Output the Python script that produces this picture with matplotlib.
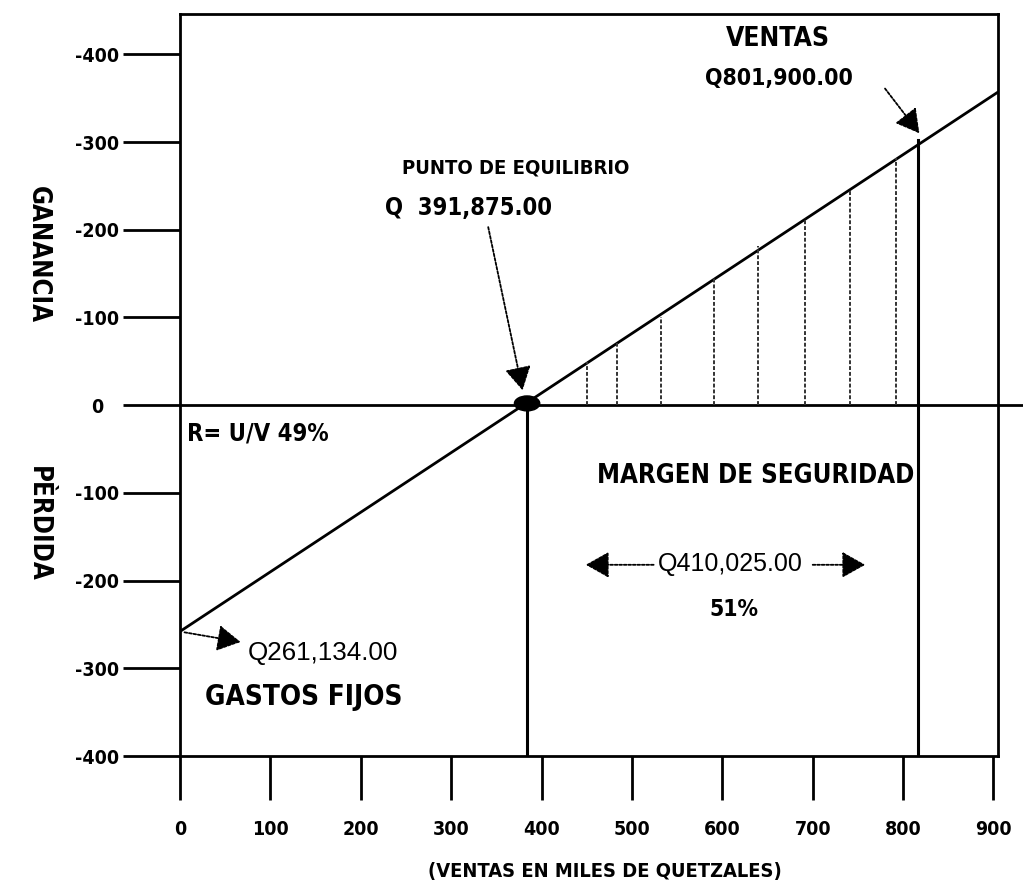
import numpy as np
import matplotlib
matplotlib.use('Agg')
import matplotlib.pyplot as plt
from matplotlib import font_manager
from matplotlib.patches import Ellipse
from matplotlib.transforms import ScaledTranslation

# valores (miles de quetzales)
line_x = [0, 905]
line_y = [-258, 357]
equilibrio_x = 384
ventas_x = 816
ventas_y = 302
hatch_x = [450, 484, 532, 591, 640, 691, 741, 792]
hatch_y = [49, 71, 100, 145, 182, 213, 245, 282]
xticks = [0, 100, 200, 300, 400, 500, 600, 700, 800, 900]
yticks = [400, 300, 200, 100, 0, -100, -200, -300, -400]
ytick_labels = ['-400', '-300', '-200', '-100', '0', '-100', '-200', '-300', '-400']

names = {f.name for f in font_manager.fontManager.ttflist}
if 'Liberation Sans Narrow' in names:
    narrow = dict(family='Liberation Sans Narrow', weight='bold')
else:
    narrow = dict(family='DejaVu Sans', weight='bold', stretch='condensed')
regular = dict(family='Liberation Sans', weight='normal')

fig = plt.figure(figsize=(10.23, 8.8), dpi=100)
ax = fig.add_axes([180/1023, 124/880, 818/1023, 742/880])
ax.set_xlim(0, 905)
ax.set_ylim(-400, 446)

for s in ax.spines.values():
    s.set_linewidth(2)

ax.set_xticks(xticks)
ax.set_xticklabels([str(t) for t in xticks], fontsize=14, **narrow)
ax.set_yticks(yticks)
ax.set_yticklabels(ytick_labels, fontsize=14, **narrow)
ax.tick_params(axis='x', direction='out', length=32, width=2, pad=14)
ax.tick_params(axis='y', direction='out', length=41, width=2, pad=3)
for lab in ax.get_yticklabels():
    if lab.get_text() == '0':
        lab.set_transform(lab.get_transform() + ScaledTranslation(-0.16, 0, fig.dpi_scale_trans))

# linea cero, se sale del marco
ax.axhline(0, xmin=0, xmax=1.032, color='black', lw=2, clip_on=False)

# recta de utilidad
ax.plot(line_x, line_y, color='black', lw=2)

# lineas verticales
ax.plot([equilibrio_x, equilibrio_x], [0, -400], color='black', lw=2.2)
ax.plot([ventas_x, ventas_x], [ventas_y, -400], color='black', lw=2.2)
for hx, hy in zip(hatch_x, hatch_y):
    ax.plot([hx, hx], [0, hy], color='#333333', lw=1.4, ls=(0, (2, 1)))

ax.add_patch(Ellipse((equilibrio_x, 2), 28, 17, color='black', zorder=5))

arrow = dict(arrowstyle='-|>,head_length=1.6,head_width=0.9', color='black',
             lw=1.3, ls=(0, (1.5, 1)), shrinkA=0, shrinkB=0, mutation_scale=9)

# textos
ax.text(662, 418, 'VENTAS', ha='center', va='center', fontsize=19, **narrow)
ax.text(663, 372, 'Q801,900.00', ha='center', va='center', fontsize=16.5, **narrow)
ax.annotate('', xy=(818, 310), xytext=(780, 361), arrowprops=arrow)

ax.text(371, 270, 'PUNTO DE EQUILIBRIO', ha='center', va='center', fontsize=14.5, **narrow)
ax.text(319, 225, 'Q  391,875.00', ha='center', va='center', fontsize=17, **narrow)
ax.annotate('', xy=(379, 17), xytext=(341, 203), arrowprops=arrow)

ax.text(8, -32, 'R= U/V 49%', ha='left', va='center', fontsize=17, **narrow)
ax.text(637, -81, 'MARGEN DE SEGURIDAD', ha='center', va='center', fontsize=18.5, **narrow)
ax.text(609, -181, 'Q410,025.00', ha='center', va='center', fontsize=18, **regular)
ax.annotate('', xy=(449, -182), xytext=(524, -182), arrowprops=arrow)
ax.annotate('', xy=(758, -182), xytext=(700, -182), arrowprops=arrow)
ax.text(613, -233, '51%', ha='center', va='center', fontsize=16.5, **narrow)

ax.text(75, -282, 'Q261,134.00', ha='left', va='center', fontsize=18.7, **regular)
ax.text(28, -333, 'GASTOS FIJOS', ha='left', va='center', fontsize=20, **narrow)
ax.annotate('', xy=(67, -270), xytext=(5, -259), arrowprops=arrow)

fig.text(38/1023, 1 - 254/880, 'GANANCIA', rotation=-90, ha='center', va='center', fontsize=18.5, **narrow)
fig.text(38/1023, 1 - 524/880, 'PÈRDIDA', rotation=-90, ha='center', va='center', fontsize=18.5, **narrow)
fig.text(605/1023, 1 - 871/880, '(VENTAS EN MILES DE QUETZALES)', ha='center', va='center', fontsize=14.4, **narrow)

fig.savefig('out.png', dpi=100)
